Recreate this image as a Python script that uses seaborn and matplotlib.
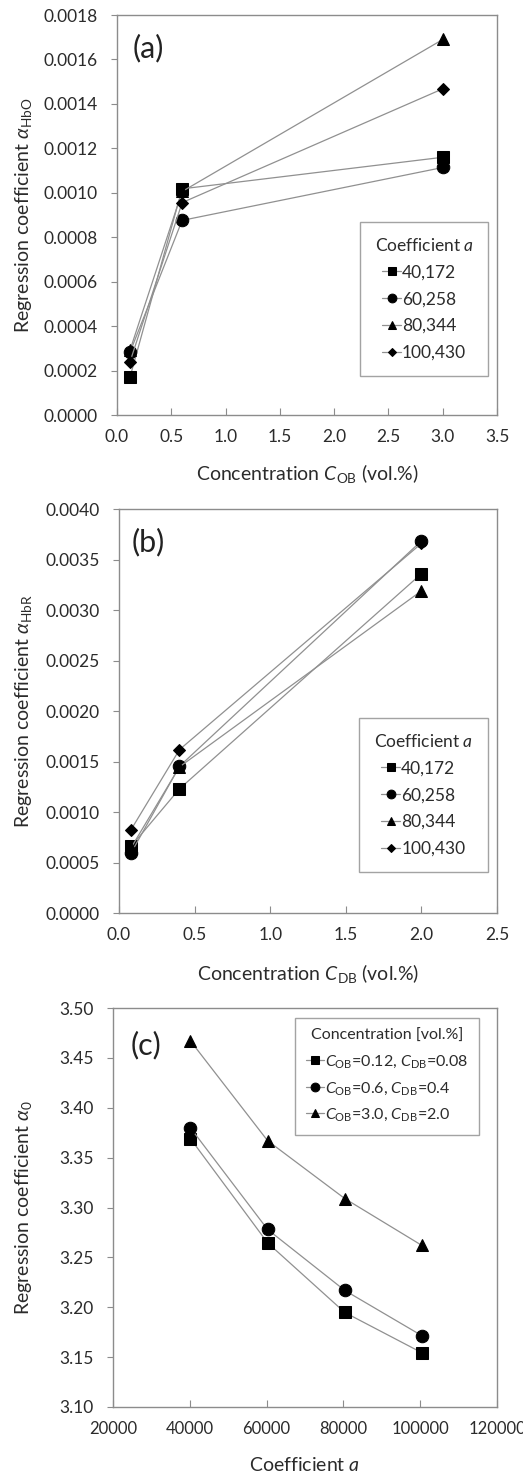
import matplotlib
matplotlib.use("Agg")
import matplotlib.pyplot as plt
import seaborn as sns
import pandas as pd
from matplotlib.ticker import FormatStrFormatter

# ---------------- data ----------------
coef_labels = ["40,172", "60,258", "80,344", "100,430"]

# panel (a)
c_ob = [0.12, 0.6, 3.0]
hbo_40172 = [0.000171, 0.001018, 0.00116]
hbo_60258 = [0.000283, 0.000876, 0.001114]
hbo_80344 = [0.000292, 0.001006, 0.00169]
hbo_100430 = [0.000240, 0.000956, 0.001468]

# panel (b)
c_db = [0.08, 0.4, 2.0]
hbr_40172 = [0.00066, 0.00123, 0.00336]
hbr_60258 = [0.000595, 0.001453, 0.003685]
hbr_80344 = [0.000647, 0.001447, 0.00319]
hbr_100430 = [0.000826, 0.001618, 0.00366]

# panel (c)
coef_a = [40172, 60258, 80344, 100430]
conc_labels = [r"$C_{\mathrm{OB}}$=0.12, $C_{\mathrm{DB}}$=0.08",
               r"$C_{\mathrm{OB}}$=0.6, $C_{\mathrm{DB}}$=0.4",
               r"$C_{\mathrm{OB}}$=3.0, $C_{\mathrm{DB}}$=2.0"]
a0_low = [3.369, 3.2646, 3.1948, 3.1544]
a0_mid = [3.3798, 3.278, 3.2169, 3.1715]
a0_high = [3.467, 3.367, 3.309, 3.262]

# ---------------- style ----------------
sns.set_theme(style="white")
plt.rcParams['font.family'] = ['Lato', 'DejaVu Sans']
plt.rcParams['mathtext.fontset'] = 'custom'
plt.rcParams['mathtext.rm'] = 'Lato'
plt.rcParams['mathtext.it'] = 'Lato:italic'
plt.rcParams['mathtext.bf'] = 'Lato:bold'

FS = 12.5
LFS = 14
TXT = "#2b2b2b"
GRAY = "#8c8c8c"
LINE = "#909090"
markers4 = ["s", "o", "^", "D"]
msizes4 = [8.5, 9, 8.5, 6.5]

fig = plt.figure(figsize=(5.23, 14.76), dpi=100)


def style_axes(ax):
    for s in ax.spines.values():
        s.set_color(GRAY)
        s.set_linewidth(1.0)
    ax.tick_params(axis='both', labelsize=FS, labelcolor=TXT)
    ax.tick_params(axis='y', direction='out', length=4, width=0.8,
                   color=GRAY, pad=10, left=True)
    ax.tick_params(axis='x', direction='in', length=5, width=0.8,
                   color=GRAY, pad=10, bottom=True)


def set_labels(ax, xlab, ylab, xpos, ypos):
    ax.set_xlabel(xlab, fontsize=LFS, color=TXT)
    ax.set_ylabel(ylab, fontsize=LFS, color=TXT)
    ax.xaxis.set_label_coords(0.5, xpos)
    ax.yaxis.set_label_coords(ypos, 0.5)
    ax.xaxis.label.set_va('center')
    ax.yaxis.label.set_va('center')


def add_series(ax, x, ys, labels, markers, sizes):
    for y, lab, m, s in zip(ys, labels, markers, sizes):
        df = pd.DataFrame({"x": x, "y": y})
        sns.lineplot(data=df, x="x", y="y", ax=ax, color=LINE, lw=0.9,
                     marker=m, markersize=s, markerfacecolor='black',
                     markeredgecolor='black', label=lab)


def add_legend(ax, title, anchor, fs, spacing, bpad):
    leg = ax.legend(title=title, loc='upper left', bbox_to_anchor=anchor,
                    borderaxespad=0, fontsize=fs, title_fontsize=fs,
                    frameon=True, fancybox=False, edgecolor=GRAY,
                    handlelength=1.1, handletextpad=0.05, markerscale=0.7,
                    labelspacing=spacing, borderpad=bpad)
    leg.get_frame().set_linewidth(1.0)
    for t in leg.get_texts():
        t.set_color(TXT)
    leg.get_title().set_color(TXT)
    return leg


# ---- (a) ----
ax1 = fig.add_axes([0.2237, 0.7188, 0.7266, 0.2710])
add_series(ax1, c_ob, [hbo_40172, hbo_60258, hbo_80344, hbo_100430],
           coef_labels, markers4, msizes4)
ax1.set_xlim(0, 3.5)
ax1.set_ylim(0, 0.0018)
ax1.set_xticks([0, 0.5, 1.0, 1.5, 2.0, 2.5, 3.0, 3.5])
ax1.set_yticks([i * 0.0002 for i in range(10)])
ax1.xaxis.set_major_formatter(FormatStrFormatter('%.1f'))
ax1.yaxis.set_major_formatter(FormatStrFormatter('%.4f'))
set_labels(ax1, r"Concentration $C_{\mathrm{OB}}$ (vol.%)",
           r"Regression coefficient $\alpha_{\mathrm{HbO}}$", -0.145, -0.245)
ax1.text(0.04, 0.917, "(a)", transform=ax1.transAxes, fontsize=22,
         va='center', ha='left', color='#222222')
style_axes(ax1)
add_legend(ax1, r"Coefficient $a$", (0.639, 0.4825), 12.5, 0.62, 0.85)

# ---- (b) ----
ax2 = fig.add_axes([0.2275, 0.3814, 0.7228, 0.2737])
add_series(ax2, c_db, [hbr_40172, hbr_60258, hbr_80344, hbr_100430],
           coef_labels, markers4, msizes4)
ax2.set_xlim(0, 2.5)
ax2.set_ylim(0, 0.004)
ax2.set_xticks([0, 0.5, 1.0, 1.5, 2.0, 2.5])
ax2.set_yticks([i * 0.0005 for i in range(9)])
ax2.xaxis.set_major_formatter(FormatStrFormatter('%.1f'))
ax2.yaxis.set_major_formatter(FormatStrFormatter('%.4f'))
set_labels(ax2, r"Concentration $C_{\mathrm{DB}}$ (vol.%)",
           r"Regression coefficient $\alpha_{\mathrm{HbR}}$", -0.1485, -0.252)
ax2.text(0.034, 0.918, "(b)", transform=ax2.transAxes, fontsize=22,
         va='center', ha='left', color='#222222')
style_axes(ax2)
add_legend(ax2, r"Coefficient $a$", (0.635, 0.4827), 12.5, 0.62, 0.85)

# ---- (c) ----
ax3 = fig.add_axes([0.2161, 0.04675, 0.7342, 0.2703])
add_series(ax3, coef_a, [a0_low, a0_mid, a0_high], conc_labels,
           ["s", "o", "^"], [8.5, 9, 8.5])
ax3.set_xlim(20000, 120000)
ax3.set_ylim(3.10, 3.50)
ax3.set_xticks([20000, 40000, 60000, 80000, 100000, 120000])
ax3.set_yticks([3.10 + i * 0.05 for i in range(9)])
ax3.xaxis.set_major_formatter(FormatStrFormatter('%d'))
ax3.yaxis.set_major_formatter(FormatStrFormatter('%.2f'))
set_labels(ax3, r"Coefficient $a$",
           r"Regression coefficient $\alpha_{0}$", -0.145, -0.232)
ax3.text(0.047, 0.907, "(c)", transform=ax3.transAxes, fontsize=22,
         va='center', ha='left', color='#222222')
style_axes(ax3)
ax3.tick_params(axis='x', labelsize=12)
add_legend(ax3, "Concentration [vol.%]", (0.474, 0.975), 11.5, 0.62, 0.7)

fig.savefig("out.png", dpi=100)
